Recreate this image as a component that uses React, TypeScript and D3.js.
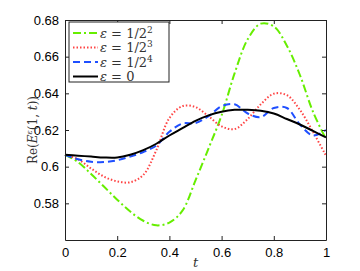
import React, { useEffect, useRef } from "react";
import * as d3 from "d3";

// sampled t grid and read-off curve values
const tValues = [0, 0.05, 0.1, 0.15, 0.2, 0.25, 0.3, 0.35, 0.4, 0.45, 0.5, 0.55, 0.6, 0.65, 0.7, 0.75, 0.8, 0.85, 0.9, 0.95, 1];
const eps4 = [0.6065, 0.6025, 0.596, 0.589, 0.582, 0.5755, 0.5705, 0.568, 0.5695, 0.576, 0.5925, 0.61, 0.628, 0.651, 0.6695, 0.678, 0.6765, 0.666, 0.65, 0.63, 0.615];
const eps8 = [0.6065, 0.604, 0.599, 0.5945, 0.592, 0.5915, 0.5955, 0.609, 0.6265, 0.633, 0.6325, 0.6275, 0.622, 0.6205, 0.626, 0.634, 0.6398, 0.639, 0.631, 0.619, 0.606];
const eps16 = [0.6065, 0.604, 0.6027, 0.6025, 0.6035, 0.6055, 0.608, 0.6115, 0.619, 0.6235, 0.6238, 0.6275, 0.633, 0.634, 0.629, 0.627, 0.632, 0.632, 0.623, 0.617, 0.62];
const eps0 = [0.6065, 0.606, 0.6055, 0.605, 0.605, 0.6065, 0.609, 0.6125, 0.617, 0.621, 0.625, 0.628, 0.63, 0.631, 0.631, 0.6305, 0.629, 0.626, 0.623, 0.6195, 0.616];

const xTicks = [0, 0.2, 0.4, 0.6, 0.8, 1];
const yTicks = [0.58, 0.6, 0.62, 0.64, 0.66, 0.68];
const legendLabels = ["2", "3", "4", ""];

const W = 360, H = 271;
const M = { left: 65, right: 34, top: 20, bottom: 31 };

export default function App() {
  const ref = useRef<SVGSVGElement>(null);

  useEffect(() => {
    const svg = d3.select(ref.current);
    svg.selectAll("*").remove();

    const x = d3.scaleLinear().domain([0, 1]).range([M.left, W - M.right]);
    const y = d3.scaleLinear().domain([0.56, 0.68]).range([H - M.bottom, M.top]);

    const series = [
      { vals: eps4, color: "#66ee00", dash: "8,3,2,3" },
      { vals: eps8, color: "#ff4444", dash: "1.5,2" },
      { vals: eps16, color: "#1f4fff", dash: "7,4" },
      { vals: eps0, color: "#000000", dash: null as string | null },
    ];

    const line = d3.line<number>()
      .x((d, i) => x(tValues[i]))
      .y(d => y(d))
      .curve(d3.curveCatmullRom.alpha(0.5));

    svg.append("rect")
      .attr("x", M.left).attr("y", M.top)
      .attr("width", W - M.left - M.right).attr("height", H - M.top - M.bottom)
      .attr("fill", "#fff");

    const plot = svg.append("g");
    series.forEach(s => {
      plot.append("path")
        .attr("d", line(s.vals))
        .attr("fill", "none")
        .attr("stroke", s.color)
        .attr("stroke-width", 2)
        .attr("stroke-dasharray", s.dash);
    });

    // axes, ticks inside on all four sides
    const font = "Liberation Sans, Arial, sans-serif";
    const bottom = svg.append("g").attr("transform", `translate(0,${H - M.bottom})`)
      .call(d3.axisBottom(x).tickValues(xTicks).tickSizeInner(-4).tickSizeOuter(0).tickPadding(8)
        .tickFormat(d => d3.format("")(d as number)));
    const top = svg.append("g").attr("transform", `translate(0,${M.top})`)
      .call(d3.axisTop(x).tickValues(xTicks).tickSizeInner(-4).tickSizeOuter(0).tickFormat(() => ""));
    const left = svg.append("g").attr("transform", `translate(${M.left},0)`)
      .call(d3.axisLeft(y).tickValues(yTicks).tickSizeInner(-4).tickSizeOuter(0).tickPadding(6)
        .tickFormat(d => d3.format("")(d as number)));
    const right = svg.append("g").attr("transform", `translate(${W - M.right},0)`)
      .call(d3.axisRight(y).tickValues(yTicks).tickSizeInner(-4).tickSizeOuter(0).tickFormat(() => ""));
    [bottom, top, left, right].forEach(g => {
      g.select(".domain").attr("stroke", "#222");
      g.selectAll(".tick line").attr("stroke", "#222");
      g.selectAll("text").attr("font-family", font).attr("font-size", 13).attr("fill", "#000");
    });

    // axis labels
    svg.append("text")
      .attr("x", x(0.5)).attr("y", H - 4)
      .attr("text-anchor", "middle")
      .attr("font-family", "DejaVu Serif, serif").attr("font-style", "italic")
      .attr("font-size", 13).attr("fill", "#333")
      .text("t");

    const yl = svg.append("text")
      .attr("transform", `translate(37,${(M.top + H - M.bottom) / 2}) rotate(-90)`)
      .attr("text-anchor", "middle")
      .attr("font-family", "DejaVu Serif, serif").attr("font-size", 12).attr("fill", "#333");
    yl.append("tspan").text("Re(");
    yl.append("tspan").attr("font-style", "italic").text("E");
    yl.append("tspan").attr("font-style", "italic").attr("font-size", 8).attr("dy", -5).text("ε");
    yl.append("tspan").attr("dy", 5).text("(1, ");
    yl.append("tspan").attr("font-style", "italic").text("t");
    yl.append("tspan").text("))");

    // legend
    const lg = svg.append("g").attr("transform", "translate(69,22)");
    lg.append("rect").attr("width", 100).attr("height", 60)
      .attr("fill", "#fff").attr("stroke", "#222").attr("stroke-width", 1);
    series.forEach((s, i) => {
      const yy = 11 + i * 14.5;
      lg.append("line").attr("x1", 4).attr("x2", 29).attr("y1", yy).attr("y2", yy)
        .attr("stroke", s.color).attr("stroke-width", 2).attr("stroke-dasharray", s.dash);
      const t = lg.append("text").attr("x", 31).attr("y", yy + 4.5)
        .attr("font-family", "DejaVu Serif, serif").attr("font-size", 13).attr("fill", "#333");
      t.append("tspan").attr("font-style", "italic").text("ε");
      if (legendLabels[i]) {
        t.append("tspan").text(" = 1/2");
        t.append("tspan").attr("font-size", 9).attr("dy", -5).text(legendLabels[i]);
      } else {
        t.append("tspan").text(" = 0");
      }
    });
  }, []);

  return (
    <svg ref={ref} width={W} height={H} style={{ position: "absolute", left: 0, top: 0, background: "#fff" }} />
  );
}
